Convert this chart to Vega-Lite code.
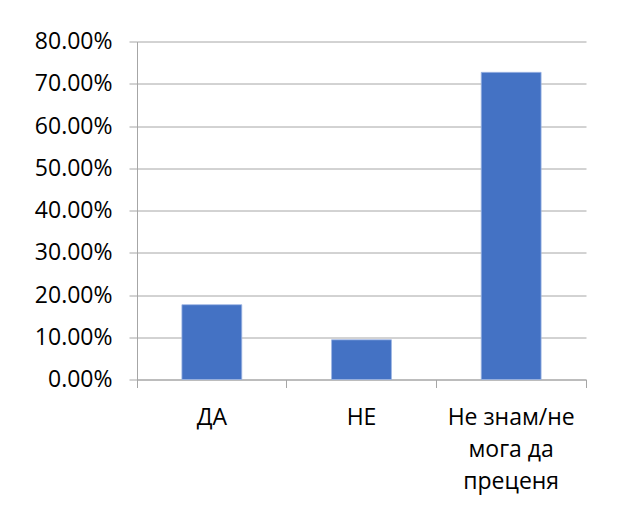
{
  "$schema": "https://vega.github.io/schema/vega-lite/v6.json",
  "width": 449,
  "height": 338,
  "autosize": {"type": "none"},
  "padding": {"left": 137, "top": 41.5, "right": 35, "bottom": 126.5},
  "background": "white",
  "config": {"view": {"stroke": null}, "font": "Open Sans"},
  "data": {"values": [
    {"answer": "ДА", "share": 0.177},
    {"answer": "НЕ", "share": 0.094},
    {"answer": "Не знам/не|мога да|преценя", "share": 0.727}
  ]},
  "encoding": {
    "y": {
      "field": "share", "type": "quantitative",
      "scale": {"domain": [0, 0.8], "nice": false},
      "axis": {
        "title": null, "format": ".2%", "values": [0, 0.1, 0.2, 0.3, 0.4, 0.5, 0.6, 0.7, 0.8],
        "tickSize": 8, "tickColor": "#a6a6a6", "domainColor": "#a6a6a6", "gridColor": "#a6a6a6",
        "labelFontSize": 23, "labelPadding": 17, "labelColor": "#000000"
      }
    }
  },
  "layer": [
    {
      "mark": {"type": "bar", "color": "#4472C4", "stroke": "#9db5e3", "strokeWidth": 0.8},
      "encoding": {
        "x": {
          "field": "answer", "type": "nominal", "sort": null,
          "scale": {"paddingInner": 0.6, "paddingOuter": 0.3},
          "axis": {
            "orient": "bottom",
            "title": null, "labelAngle": 0, "labelExpr": "split(datum.value, '|')",
            "ticks": false, "domainColor": "#a6a6a6",
            "labelFontSize": 23, "labelPadding": 27, "labelLineHeight": 32, "labelColor": "#000000",
            "grid": false
          }
        }
      }
    },
    {
      "mark": {"type": "bar", "opacity": 0},
      "encoding": {
        "x": {
          "field": "answer", "type": "nominal", "sort": null,
          "axis": {
            "orient": "bottom",
            "title": null, "labels": false, "domain": false, "grid": false,
            "ticks": true, "tickSize": 8, "tickColor": "#a6a6a6", "bandPosition": -0.75
          }
        }
      }
    },
    {
      "mark": {"type": "bar", "opacity": 0},
      "encoding": {
        "x": {
          "field": "answer", "type": "nominal", "sort": null,
          "axis": {
            "orient": "bottom",
            "title": null, "labels": false, "domain": false, "grid": false,
            "ticks": true, "tickSize": 8, "tickColor": "#a6a6a6", "bandPosition": 1.75
          }
        }
      }
    }
  ],
  "resolve": {"axis": {"x": "independent"}}
}
